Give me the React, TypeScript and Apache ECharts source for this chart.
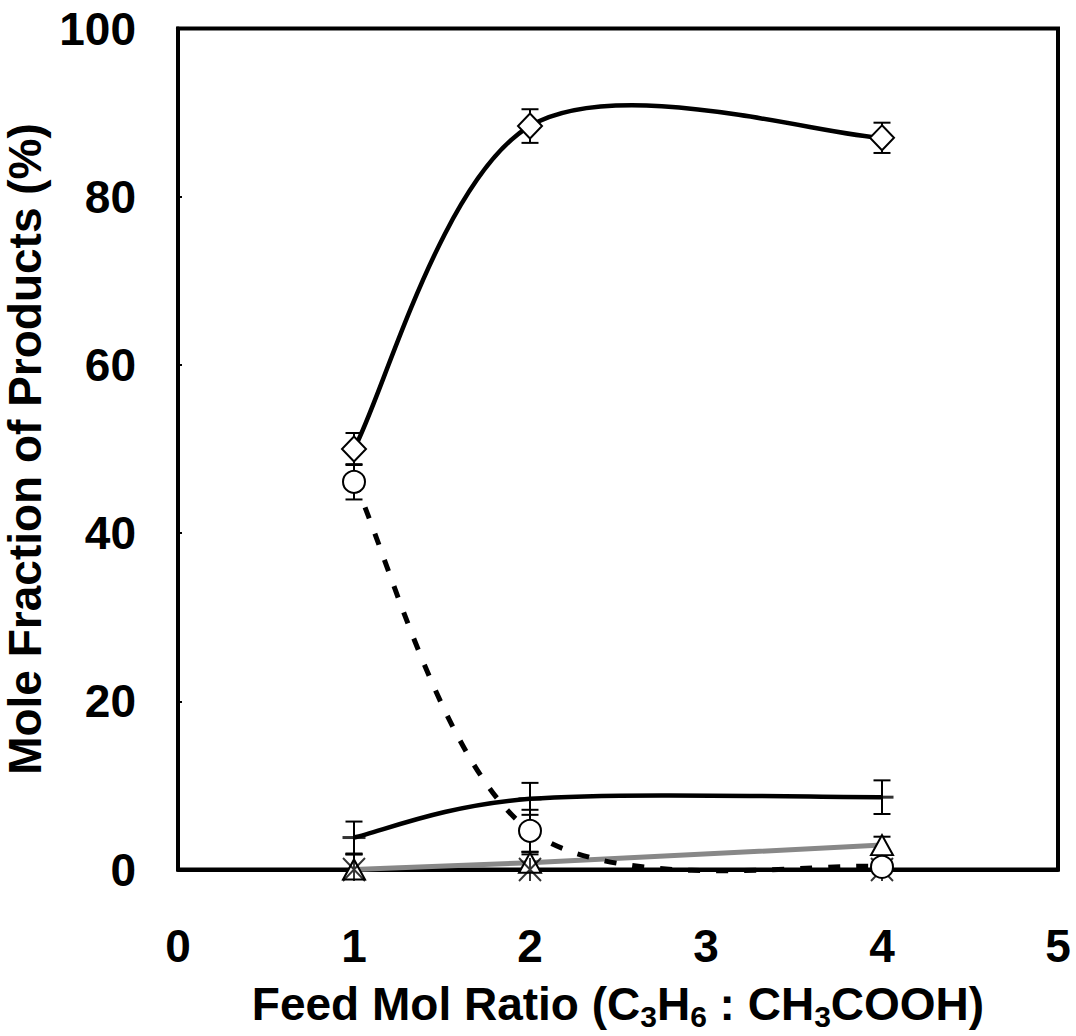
import React, { useEffect, useRef } from "react";
import * as echarts from "echarts";

// ---- data ----
const xValues = [1, 2, 4];
const diamondValues = [50, 88.4, 87];
const diamondErr = [1.9, 2.0, 1.8];
const circleValues = [46.1, 4.6, 0.3];
const circleErr = [2.1, 2.5, 2.0];
const dashValues = [3.8, 8.4, 8.6];
const dashErr = [1.9, 1.9, 2.0];
const triangleValues = [0, 0.8, 2.9];
const triangleErr = [1.8, 1.3, 1.0];
const starValues = [0, 0, 0];
const starErr = [1.8, 1.8, 1.8];
const xAxisRange = [0, 5, 1]; // min, max, interval -> ticks 0..5
const yAxisRange = [0, 100, 20]; // ticks 0..100

const FONT = "'Liberation Sans', Arial, Helvetica, sans-serif";

function splinePath(pts: number[][], smooth: boolean): string {
  let d = `M${pts[0][0]} ${pts[0][1]}`;
  for (let i = 0; i < pts.length - 1; i++) {
    const p1 = pts[i];
    const p2 = pts[i + 1];
    if (!smooth) {
      d += ` L${p2[0]} ${p2[1]}`;
      continue;
    }
    const p0 = pts[i - 1] || p1;
    const p3 = pts[i + 2] || p2;
    const c1x = p1[0] + (p2[0] - p0[0]) / 6;
    const c1y = p1[1] + (p2[1] - p0[1]) / 6;
    const c2x = p2[0] - (p3[0] - p1[0]) / 6;
    const c2y = p2[1] - (p3[1] - p1[1]) / 6;
    d += ` C${c1x} ${c1y} ${c2x} ${c2y} ${p2[0]} ${p2[1]}`;
  }
  return d;
}

function curveSeries(ys: number[], style: any, smooth: boolean, z: number) {
  return {
    type: "custom",
    silent: true,
    clip: false,
    z,
    encode: { x: 0, y: 1 },
    data: xValues.map((x, i) => [x, ys[i]]),
    renderItem: (params: any, api: any) => {
      if (params.dataIndex !== 0) return null;
      const pts = xValues.map((x, i) => api.coord([x, ys[i]]));
      return {
        type: "path",
        shape: { pathData: splinePath(pts, smooth) },
        style: Object.assign({ fill: "none" }, style),
      };
    },
  };
}

function errorSeries(ys: number[], errs: number[]) {
  return {
    type: "custom",
    silent: true,
    clip: false,
    z: 3,
    encode: { x: 0, y: 1 },
    data: xValues.map((x, i) => [x, ys[i], errs[i]]),
    renderItem: (params: any, api: any) => {
      const x = api.value(0);
      const y = api.value(1);
      const e = api.value(2);
      const lo = Math.max(0, y - e);
      const hi = y + e;
      const pHi = api.coord([x, hi]);
      const pLo = api.coord([x, lo]);
      const half = 8.5;
      const st = { stroke: "#000", lineWidth: 2 };
      const children: any[] = [
        { type: "line", shape: { x1: pHi[0], y1: pHi[1], x2: pLo[0], y2: pLo[1] }, style: st },
        { type: "line", shape: { x1: pHi[0] - half, y1: pHi[1], x2: pHi[0] + half, y2: pHi[1] }, style: st },
      ];
      if (y - e >= 0) {
        children.push({ type: "line", shape: { x1: pLo[0] - half, y1: pLo[1], x2: pLo[0] + half, y2: pLo[1] }, style: st });
      }
      return { type: "group", children };
    },
  };
}

function markerSeries(ys: number[], symbol: string, size: any, itemStyle: any, z: number) {
  return {
    type: "scatter",
    silent: true,
    z,
    symbol,
    symbolSize: size,
    itemStyle,
    data: xValues.map((x, i) => [x, ys[i]]),
  };
}

const hollow = { color: "#fff", borderColor: "#000", borderWidth: 2, opacity: 1 };

export default function App() {
  const ref = useRef<HTMLDivElement>(null);
  useEffect(() => {
    if (!ref.current) return;
    const chart = echarts.init(ref.current, null, { renderer: "svg" });
    const labelStyle = {
      fontSize: 46,
      fontWeight: "bold",
      fontFamily: FONT,
      color: "#000",
      lineHeight: 46,
    };
    chart.setOption({
      animation: false,
      backgroundColor: "#fff",
      grid: {
        left: 178,
        right: 18,
        top: 28.5,
        bottom: 166.5,
        show: true,
        borderColor: "#000",
        borderWidth: 4,
        backgroundColor: "transparent",
        containLabel: false,
        outerBoundsMode: "none",
      },
      xAxis: {
        type: "value",
        min: xAxisRange[0],
        max: xAxisRange[1],
        interval: xAxisRange[2],
        axisLine: { show: true, onZero: false, lineStyle: { color: "#000", width: 4 } },
        axisTick: { show: false },
        splitLine: { show: false },
        axisLabel: Object.assign({ margin: 53, showMinLabel: true, showMaxLabel: true }, labelStyle),
        name: "{t|Feed Mol Ratio (C}{s|3}{t|H}{s|6}{t| : CH}{s|3}{t|COOH)}",
        nameLocation: "middle",
        nameGap: 106,
        nameTextStyle: {
          rich: {
            t: { fontSize: 46, fontWeight: "bold", fontFamily: FONT, color: "#000", lineHeight: 56 },
            s: { fontSize: 30, fontWeight: "bold", fontFamily: FONT, color: "#000", lineHeight: 30, verticalAlign: "bottom" },
          },
        },
      },
      yAxis: {
        type: "value",
        min: yAxisRange[0],
        max: yAxisRange[1],
        interval: yAxisRange[2],
        axisLine: { show: true, lineStyle: { color: "#000", width: 4 } },
        axisTick: { show: true, inside: true, length: 4, lineStyle: { color: "#000", width: 2 } },
        splitLine: { show: false },
        axisLabel: Object.assign({ margin: 42, showMinLabel: true, showMaxLabel: true }, labelStyle),
        name: "Mole Fraction of Products (%)",
        nameLocation: "middle",
        nameGap: 121,
        nameTextStyle: { fontSize: 46, fontWeight: "bold", fontFamily: FONT, color: "#000", lineHeight: 46 },
      },
      series: [
        curveSeries(triangleValues, { stroke: "#888", lineWidth: 5 }, false, 1),
        curveSeries(diamondValues, { stroke: "#000", lineWidth: 4.5 }, true, 2),
        curveSeries(dashValues, { stroke: "#000", lineWidth: 4.5 }, true, 2),
        curveSeries(circleValues, { stroke: "#000", lineWidth: 5, lineDash: [12, 16] }, true, 2),
        errorSeries(diamondValues, diamondErr),
        errorSeries(circleValues, circleErr),
        errorSeries(dashValues, dashErr),
        errorSeries(triangleValues, triangleErr),
        errorSeries(starValues, starErr),
        markerSeries(triangleValues, "triangle", [22, 20], hollow, 4),
        markerSeries(
          starValues,
          "path://M0,0L20,20M20,0L0,20M10,0L10,20",
          [22, 23],
          { color: "transparent", borderColor: "#000", borderWidth: 2 },
          5
        ),
        markerSeries(circleValues, "circle", 22, hollow, 6),
        markerSeries(diamondValues, "diamond", [24, 25], hollow, 6),
        markerSeries(dashValues, "rect", [23, 3], { color: "#000" }, 6),
      ],
    });
    return () => chart.dispose();
  }, []);
  return (
    <div
      ref={ref}
      style={{ position: "fixed", left: 0, top: 0, width: 1076, height: 1036, background: "#fff" }}
    />
  );
}
